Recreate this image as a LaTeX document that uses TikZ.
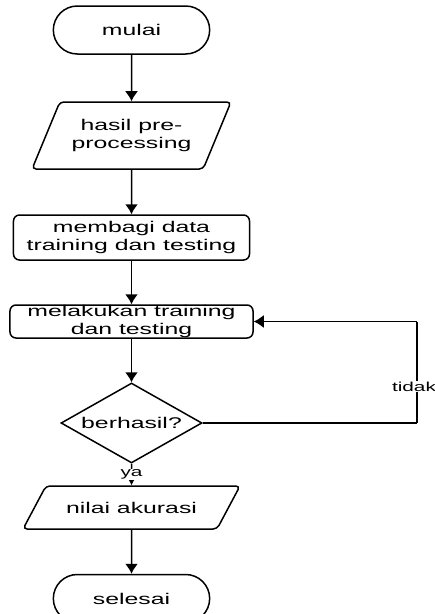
\documentclass[tikz,border=0pt]{standalone}
\usepackage{fontspec}
\setmainfont{Liberation Sans}[FakeStretch=1.6]
\usetikzlibrary{shapes,arrows.meta,positioning}
\tikzset{
	terminal/.style = {draw, rounded rectangle, minimum width=163pt, minimum height=48pt},
	io/.style = {draw, trapezium, trapezium stretches=true, trapezium left angle=58, trapezium right angle=122, rounded corners=4pt, align=center, inner xsep=2pt},
	block/.style = {draw, rectangle, rounded corners=6pt, align=center, inner ysep=0.5pt},
	decision/.style = {draw, diamond, aspect=1.76, inner sep=0pt, minimum width=141pt, minimum height=80pt},
	coord/.style = {coordinate},
	lbl/.style = {fill=white, inner sep=1pt, font=\fontsize{13}{13}\selectfont}
}
\begin{document}
\begin{tikzpicture}[node distance=2cm, >={Latex[width=13pt,length=10pt]}, line width=1.5pt, font=\fontsize{15.5}{17.3}\selectfont]
		\useasboundingbox (-131.5pt,30pt) rectangle (303.5pt,-584pt);
		\node [terminal] (mulai) {mulai};
		\node [io, below of=mulai, node distance=105.5pt, minimum width=199pt, minimum height=67pt] (hasil) {hasil pre-\\processing};
		\node [block, below of=hasil, node distance=102pt, minimum width=236pt, minimum height=45pt] (bagi) {membagi data\\training dan testing};
		\node [block, below of=bagi, node distance=84pt, minimum width=243pt, minimum height=33pt] (latih) {melakukan training\\dan testing};
		\node [decision, below of=latih, node distance=101.5pt] (cek) {berhasil?};
		\node [io, below of=cek, node distance=84.5pt, trapezium left angle=45, trapezium right angle=135, minimum width=217pt, minimum height=43pt] (akurasi) {nilai akurasi};
		\node [terminal, below of=akurasi, node distance=91pt] (selesai) {selesai};
		\node [coord, right of=cek, node distance=285.5pt] (fb1) {};
		\node [coord, above of=fb1, node distance=101.5pt] (fb2) {};
		\draw [->] (mulai) -- (hasil);
		\draw [->] (hasil) -- (bagi);
		\draw [->] (bagi) -- (latih);
		\draw [->] (latih) -- (cek);
		\draw [->] (cek) -- node[lbl]{ya} (akurasi);
		\draw [->] (akurasi) -- (selesai);
		\draw [-] (cek) -- (fb1);
		\draw [-] (fb1) -- node[lbl, pos=0.36, xshift=-3pt]{tidak} (fb2);
		\draw [->] (fb2) -- (latih);
	    \end{tikzpicture}
\end{document}
